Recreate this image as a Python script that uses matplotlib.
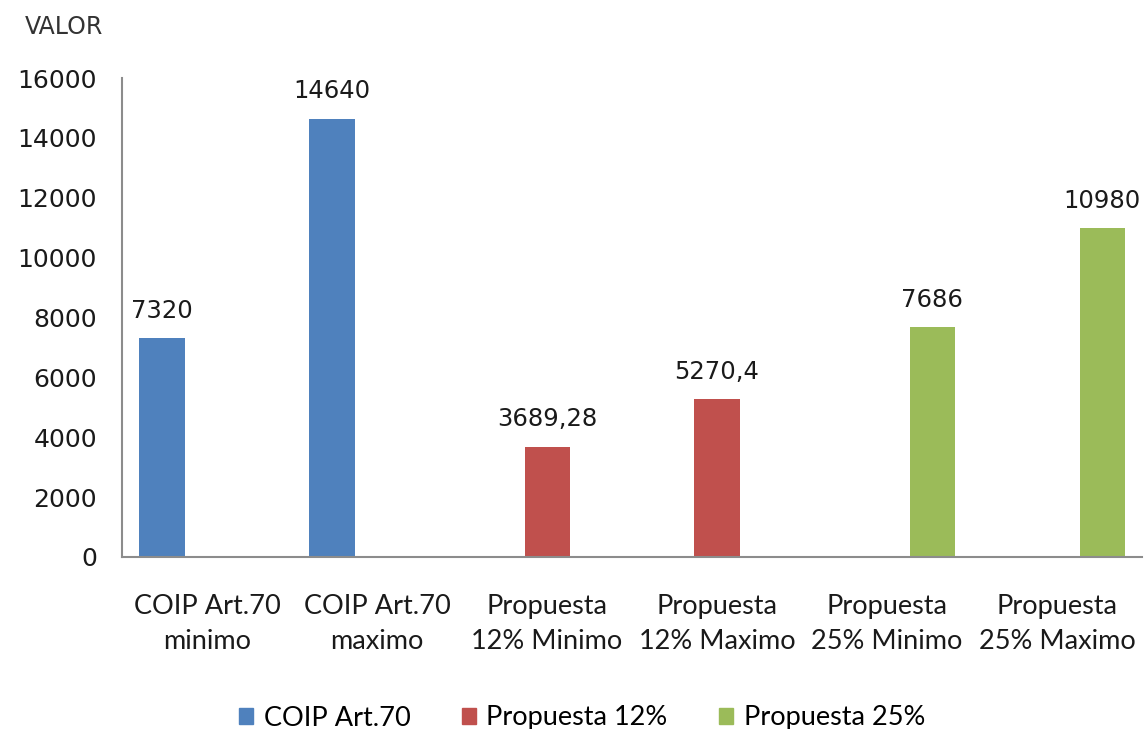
import numpy as np
import matplotlib
matplotlib.use("Agg")
import matplotlib.pyplot as plt
from matplotlib.patches import Patch

categories = ["COIP Art.70\nminimo", "COIP Art.70\nmaximo", "Propuesta\n12% Minimo",
              "Propuesta\n12% Maximo", "Propuesta\n25% Minimo", "Propuesta\n25% Maximo"]
series_names = ["COIP Art.70", "Propuesta 12%", "Propuesta 25%"]
coip = [7320, 14640, None, None, None, None]
prop12 = [None, None, 3689.28, 5270.4, None, None]
prop25 = [None, None, None, None, 7686, 10980]
yticks = [0, 2000, 4000, 6000, 8000, 10000, 12000, 14000, 16000]

colors = ["#4F81BD", "#C0504D", "#9BBB59"]
series = [coip, prop12, prop25]

fig = plt.figure(figsize=(11.46, 7.29), dpi=100)
ax = fig.add_axes([0.1065, 0.236, 0.89, 0.657])

x = np.arange(len(categories))
w = 0.265
offsets = [-w, 0, w]

def fmt(v):
    s = ("%.2f" % v).rstrip("0").rstrip(".")
    return s.replace(".", ",")

for vals, col, off in zip(series, colors, offsets):
    xs = [xi + off for xi, v in zip(x, vals) if v is not None]
    vs = [v for v in vals if v is not None]
    bars = ax.bar(xs, vs, width=w, color=col, zorder=2)
    for b, v in zip(bars, vs):
        ax.annotate(fmt(v), (b.get_x() + b.get_width() / 2, v), xytext=(0, 11),
                    textcoords="offset points", ha="center", va="bottom",
                    fontsize=17.5, family="DejaVu Sans", color="#1a1a1a")

ax.set_xlim(-0.5, 5.5)
ax.set_ylim(0, 16000)
ax.set_yticks(yticks)
ax.set_yticklabels([str(t) for t in yticks], fontsize=18, family="DejaVu Sans", color="#1a1a1a")
ax.set_xticks(x)
ax.set_xticklabels(categories, fontsize=19.5, family="Lato", color="#1a1a1a", linespacing=1.5)
ax.tick_params(axis="y", length=0, pad=18)
ax.tick_params(axis="x", length=0, pad=27)
for s in ["top", "right"]:
    ax.spines[s].set_visible(False)
for s in ["left", "bottom"]:
    ax.spines[s].set_color("#8c8c8c")
    ax.spines[s].set_linewidth(1.5)

fig.text(25 / 1146, 1 - 27 / 729, "VALOR", fontsize=17, family="DejaVu Sans",
         color="#333333", va="center", ha="left")

handles = [Patch(color=c, label=n) for c, n in zip(colors, series_names)]
leg = fig.legend(handles=handles, loc="center", bbox_to_anchor=(0.508, 1 - 718 / 729),
                 ncol=3, frameon=False, prop={"family": "Lato", "size": 19.5},
                 handlelength=0.5, handleheight=0.5, handletextpad=0.4, columnspacing=1.9)

fig.savefig("out.png", dpi=100)
